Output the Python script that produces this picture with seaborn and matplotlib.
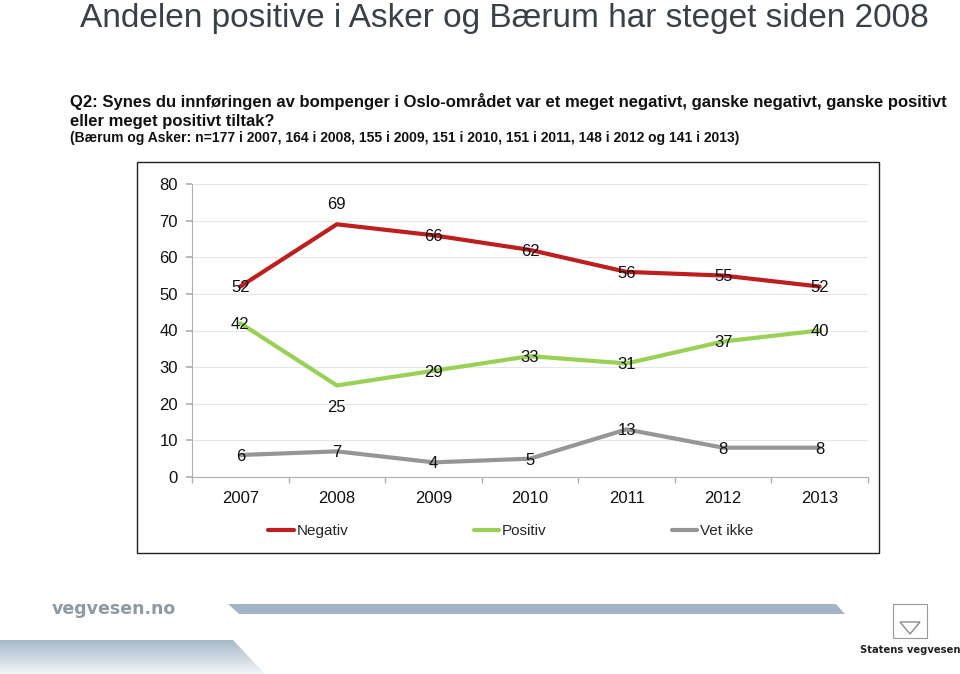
import matplotlib
matplotlib.use("Agg")
import matplotlib.pyplot as plt
import seaborn as sns
import pandas as pd
import numpy as np
from matplotlib.patches import Rectangle, Polygon
from matplotlib.colors import LinearSegmentedColormap

# ---- data ----
years = ["2007", "2008", "2009", "2010", "2011", "2012", "2013"]
negativ = [52, 69, 66, 62, 56, 55, 52]
positiv = [42, 25, 29, 33, 31, 37, 40]
vet_ikke = [6, 7, 4, 5, 13, 8, 8]
series_names = ["Negativ", "Positiv", "Vet ikke"]
y_ticks = [0, 10, 20, 30, 40, 50, 60, 70, 80]

title = "Andelen positive i Asker og Bærum har steget siden 2008"
question = ("Q2: Synes du innføringen av bompenger i Oslo-området var et meget negativt, "
            "ganske negativt, ganske positivt\neller meget positivt tiltak?")
sample = ("(Bærum og Asker: n=177 i 2007, 164 i 2008, 155 i 2009, 151 i 2010, "
          "151 i 2011, 148 i 2012 og 141 i 2013)")

colors = {"Negativ": "#BE1E1E", "Positiv": "#98D155", "Vet ikke": "#969696"}

df = pd.DataFrame({
    "year": years * 3,
    "value": negativ + positiv + vet_ikke,
    "serie": ["Negativ"] * 7 + ["Positiv"] * 7 + ["Vet ikke"] * 7,
})

sns.set_theme(style="white")
plt.rcParams["font.family"] = ["Liberation Sans", "DejaVu Sans"]

W, H = 960, 674
fig = plt.figure(figsize=(W / 100, H / 100), dpi=100)

def fx(px):
    return px / W

def fy(py):
    return 1 - py / H

# chart frame
fig.patches.append(Rectangle((fx(137), fy(553)), fx(879) - fx(137), fy(162) - fy(553),
                             transform=fig.transFigure, fill=False, edgecolor="#222222",
                             linewidth=1.0, zorder=0))

ax = fig.add_axes([fx(192), fy(477), fx(868) - fx(192), fy(184) - fy(477)])
sns.lineplot(data=df, x="year", y="value", hue="serie", palette=colors,
             linewidth=3.0, ax=ax, legend=True, sort=False)

ax.set_xlim(-0.5, 6.5)
ax.set_ylim(0, 80)
ax.set_yticks(y_ticks)
ax.set_xlabel("")
ax.set_ylabel("")
ax.yaxis.grid(True, color="#e6e6e6", linewidth=0.8)
ax.set_axisbelow(True)
for s in ["top", "right"]:
    ax.spines[s].set_visible(False)
for s in ["left", "bottom"]:
    ax.spines[s].set_color("#b0b0b0")
    ax.spines[s].set_linewidth(0.8)
ax.tick_params(axis="y", left=True, length=4, color="#b0b0b0", labelsize=12, pad=6, labelcolor="#111111")
ax.set_xticks(range(len(years)))
ax.set_xticklabels(years)
ax.set_xticks(np.arange(-0.5, 7, 1), minor=True)
ax.tick_params(axis="x", which="major", length=0, labelsize=12, pad=10, labelcolor="#111111")
ax.tick_params(axis="x", which="minor", bottom=True, length=4, color="#b0b0b0")

# data labels
offsets = {
    "Negativ": [0, 15, 0, 0, 0, 0, 0],
    "Positiv": [0, -15, 0, 0, 0, 0, 0],
    "Vet ikke": [0, 0, 0, 0, 0, 0, 0],
}
for name, vals in zip(series_names, [negativ, positiv, vet_ikke]):
    for i, v in enumerate(vals):
        ax.annotate(str(v), (i, v), xytext=(0, offsets[name][i] - 1), textcoords="offset points",
                    ha="center", va="center", fontsize=12, color="#111111", zorder=5)

# legend
h, l = ax.get_legend_handles_labels()
ax.get_legend().remove()
fig.legend(h, l, loc="center", bbox_to_anchor=(fx(511), fy(531)), ncol=3, frameon=False,
           fontsize=11, handlelength=1.65, handletextpad=0.2, columnspacing=8.2)

# titles
fig.text(fx(504), fy(27), title, ha="center", va="baseline", fontsize=24, color="#3a4048")
fig.text(fx(70), fy(111), question, ha="left", va="center", fontsize=12, fontweight="bold",
         color="#111111", linespacing=1.4)
fig.text(fx(70), fy(138), sample, ha="left", va="center", fontsize=10, fontweight="bold",
         color="#111111")

# footer decorations
fig.text(fx(52), fy(609), "vegvesen.no", ha="left", va="center", fontsize=12.5,
         fontweight="bold", color="#8e9aa3", family="DejaVu Sans")
fig.patches.append(Polygon([(fx(228), fy(604)), (fx(836), fy(604)), (fx(845), fy(614)), (fx(239), fy(614))],
                           closed=True, transform=fig.transFigure, facecolor="#a3b5c4",
                           edgecolor="none"))

# gradient wedge bottom-left
gax = fig.add_axes([0, 0, fx(270), fy(640)])
grad = np.linspace(1, 0, 50).reshape(-1, 1)
cmap = LinearSegmentedColormap.from_list("g", ["#f2f5f8", "#a6b9c8"])
im = gax.imshow(grad, aspect="auto", cmap=cmap, extent=[0, 1, 0, 1], origin="upper")
clip = Polygon([(0, 0), (265 / 270, 0), (233 / 270, 1), (0, 1)], closed=True, transform=gax.transAxes)
im.set_clip_path(clip)
gax.axis("off")

# logo
fig.text(fx(910), fy(650), "Statens vegvesen", ha="center", va="center", fontsize=8,
         fontweight="bold", color="#222222", family="DejaVu Sans", fontstretch="condensed")
fig.patches.append(Rectangle((fx(893), fy(638)), fx(34), fy(604) - fy(638),
                             transform=fig.transFigure, fill=False, edgecolor="#9a9a9a",
                             linewidth=0.8))
fig.patches.append(Polygon([(fx(900), fy(622)), (fx(920), fy(622)), (fx(910), fy(634))],
                           closed=True, transform=fig.transFigure, fill=False,
                           edgecolor="#8a8a8a", linewidth=1.0))

fig.savefig("out.png", dpi=100)
